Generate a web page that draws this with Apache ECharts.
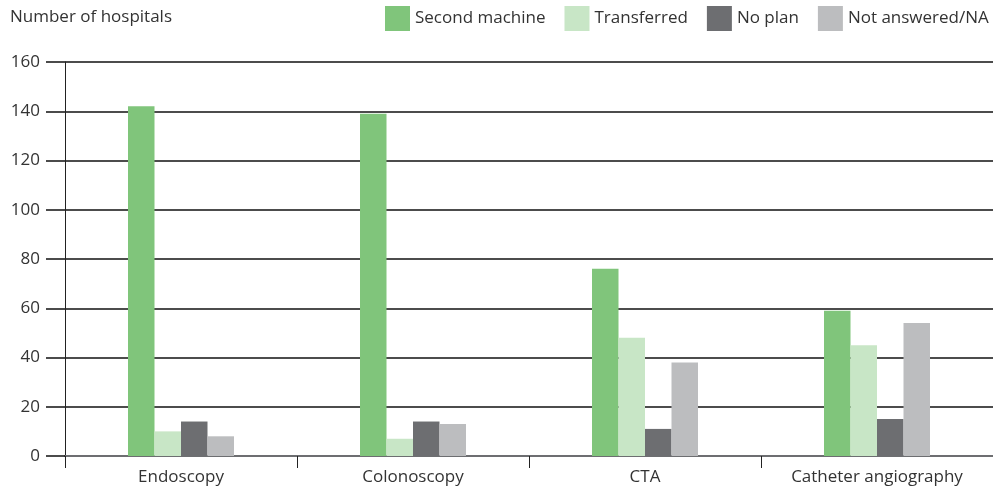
<!DOCTYPE html>
<html>
<head>
<meta charset="utf-8">
<script src="https://cdn.jsdelivr.net/npm/echarts@6/dist/echarts.min.js"></script>
<style>
  html, body { margin: 0; padding: 0; background: #fff; }
  #chart { width: 993px; height: 490px; }
</style>
</head>
<body>
<div id="chart"></div>
<script>
var categories = ["Endoscopy", "Colonoscopy", "CTA", "Catheter angiography"];
var secondMachine = [142, 139, 76, 59];
var transferred = [10, 7, 48, 45];
var noPlan = [14, 14, 11, 15];
var notAnswered = [8, 13, 38, 54];

var font = "'Open Sans', 'Noto Sans', sans-serif";

var chart = echarts.init(document.getElementById("chart"));

function bar(name, data, color) {
  return {
    name: name,
    type: "bar",
    data: data,
    barWidth: 26.5,
    barGap: "0%",
    itemStyle: { color: color }
  };
}

chart.setOption({
  animation: false,
  textStyle: { fontFamily: font },
  title: {
    text: "Number of hospitals",
    left: 10,
    top: 9,
    padding: 0,
    textStyle: { fontFamily: font, fontSize: 17, fontWeight: "normal", color: "#333" }
  },
  legend: {
    left: 385,
    top: 6,
    width: 800,
    padding: 0,
    itemWidth: 25,
    itemHeight: 25,
    itemGap: 19,
    icon: "rect",
    textStyle: { fontFamily: font, fontSize: 17, color: "#333" },
    data: ["Second machine", "Transferred", "No plan", "Not answered/NA"]
  },
  grid: { left: 65, right: 0, top: 62, bottom: 34 },
  xAxis: {
    type: "category",
    data: categories,
    axisLine: { lineStyle: { color: "#6d6e71", width: 2 } },
    axisTick: { show: true, length: 12, interval: 0, lineStyle: { color: "#222", width: 1 } },
    axisLabel: { fontFamily: font, fontSize: 17, color: "#333", margin: 13, interval: 0 }
  },
  yAxis: {
    type: "value",
    min: 0,
    max: 160,
    interval: 20,
    axisLine: { show: true, lineStyle: { color: "#222", width: 1 } },
    axisTick: { show: true, length: 19, lineStyle: { color: "#111", width: 1.5 } },
    axisLabel: { fontFamily: font, fontSize: 17, color: "#333", margin: 25 },
    splitLine: { lineStyle: { color: "#111", width: 1.5 } }
  },
  series: [
    bar("Second machine", secondMachine, "#80c57b"),
    bar("Transferred", transferred, "#c8e6c6"),
    bar("No plan", noPlan, "#6d6e71"),
    bar("Not answered/NA", notAnswered, "#bcbdbf")
  ]
});
</script>
</body>
</html>
